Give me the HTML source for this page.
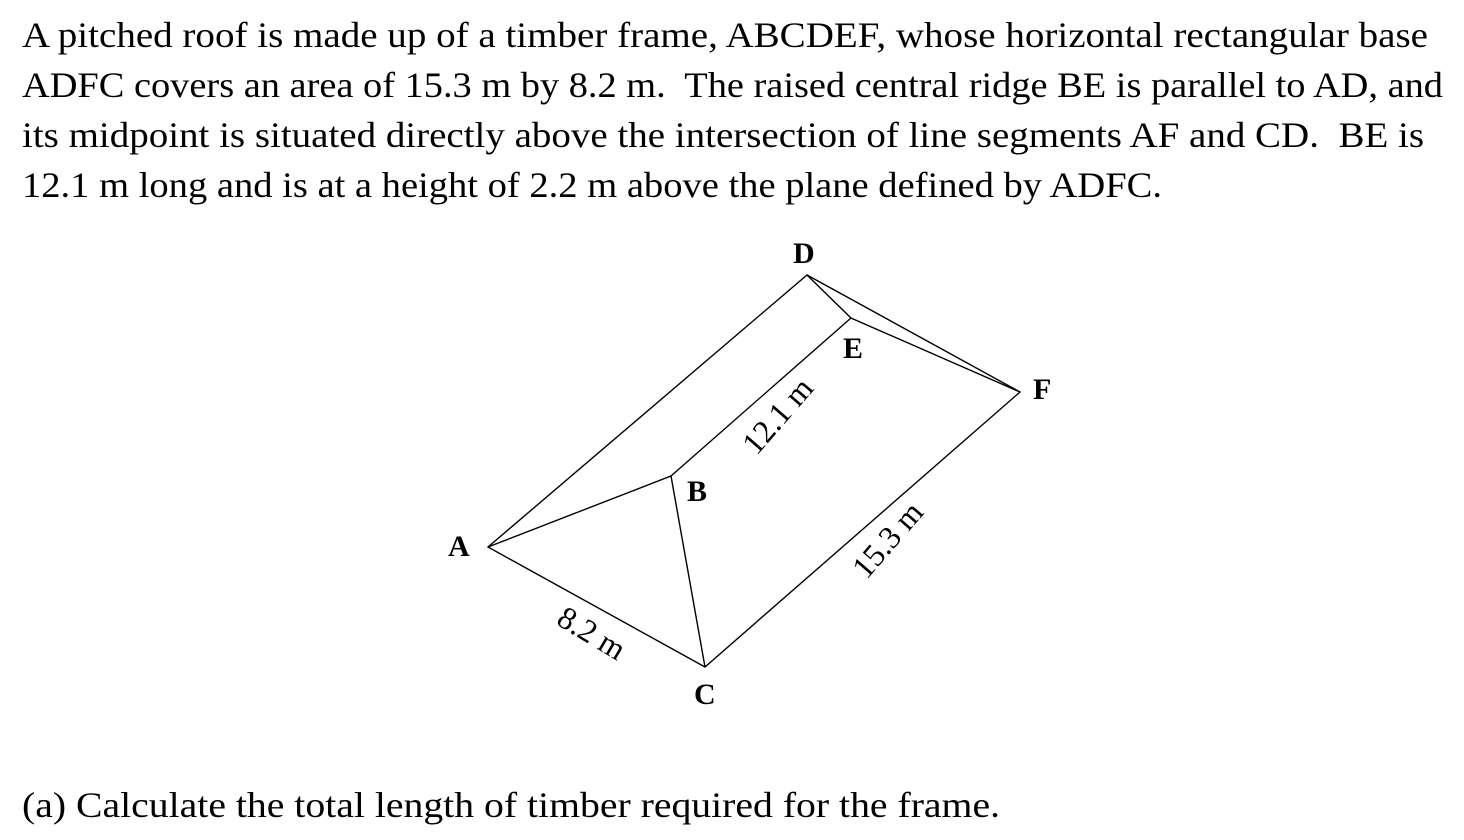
<!DOCTYPE html>
<html><head><style>
body{margin:0;width:1464px;height:840px;background:#fff;overflow:hidden;}
</style></head><body>
<svg width="1464" height="840" style="position:absolute;left:0;top:0" font-family="Liberation Serif, serif">
<g font-size="36" lengthAdjust="spacingAndGlyphs">
<text x="22" y="47" textLength="1406" lengthAdjust="spacingAndGlyphs">A pitched roof is made up of a timber frame, ABCDEF, whose horizontal rectangular base</text>
<text x="22" y="97" textLength="1421" lengthAdjust="spacingAndGlyphs" xml:space="preserve">ADFC covers an area of 15.3 m by 8.2 m.  The raised central ridge BE is parallel to AD, and</text>
<text x="22" y="147" textLength="1402" lengthAdjust="spacingAndGlyphs" xml:space="preserve">its midpoint is situated directly above the intersection of line segments AF and CD.  BE is</text>
<text x="22" y="197" textLength="1140" lengthAdjust="spacingAndGlyphs">12.1 m long and is at a height of 2.2 m above the plane defined by ADFC.</text>
<text x="22" y="817" textLength="978" lengthAdjust="spacingAndGlyphs">(a) Calculate the total length of timber required for the frame.</text>
</g>
<g stroke="#000" stroke-width="1.4" fill="none">
<polygon points="488,547 807,275 1020,392 705,667"/>
<polyline points="488,547 671,476 705,667"/>
<line x1="671" y1="476" x2="851" y2="318"/>
<polyline points="807,275 851,318 1020,392"/>
</g>
<g font-size="30" font-weight="bold">
<text x="793" y="263">D</text>
<text x="843" y="358">E</text>
<text x="1033" y="399">F</text>
<text x="448" y="556">A</text>
<text x="687" y="501">B</text>
<text x="694" y="704">C</text>
</g>
<g font-size="32">
<text transform="translate(780,418) rotate(-49)" text-anchor="middle" dominant-baseline="middle">12.1 m</text>
<text transform="translate(890,542) rotate(-49)" text-anchor="middle" dominant-baseline="middle">15.3 m</text>
<text transform="translate(590,636) rotate(31)" text-anchor="middle" dominant-baseline="middle">8.2 m</text>
</g>
</svg>
</body></html>
